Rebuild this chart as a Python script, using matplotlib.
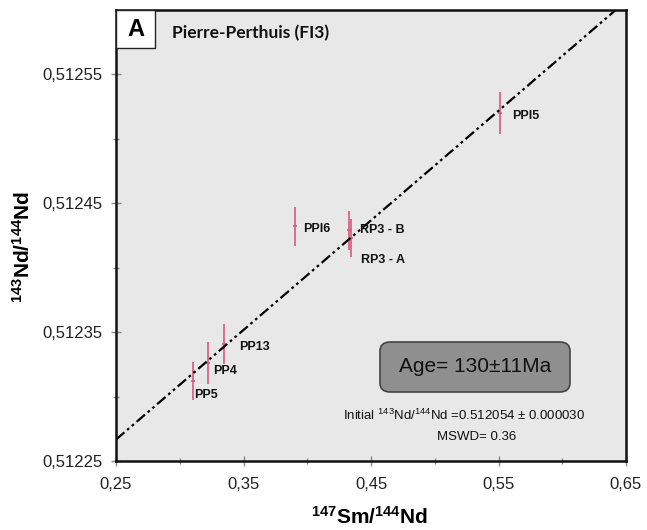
import numpy as np
import matplotlib
matplotlib.use("Agg")
import matplotlib.pyplot as plt
from matplotlib.patches import FancyBboxPatch, Rectangle
from matplotlib.ticker import FuncFormatter

plt.rcParams['font.family'] = ['Liberation Sans', 'DejaVu Sans']
plt.rcParams['mathtext.fontset'] = 'custom'
plt.rcParams['mathtext.rm'] = 'Liberation Sans'
plt.rcParams['mathtext.bf'] = 'Liberation Sans:bold'

# Sample data: 147Sm/144Nd and 143Nd/144Nd with 2-sigma errors
samples = ["PP5", "PP4", "PP13", "PPI6", "RP3-B", "RP3-A", "PPI5"]
sm_nd = [0.3104, 0.3222, 0.3347, 0.3904, 0.4325, 0.4345, 0.5512]
nd_nd = [0.512312, 0.512326, 0.512341, 0.512432, 0.512429, 0.512423, 0.512520]
nd_err = [0.0000150, 0.0000165, 0.0000155, 0.0000155, 0.0000150, 0.0000145, 0.0000160]
sm_err = [0.0015, 0.0015, 0.0015, 0.0015, 0.0015, 0.0015, 0.0015]
label_names = ["PP5", "PP4", "PP13", "PPI6", "RP3 - B", "RP3 - A", "PPI5"]
label_offsets = [(1, -10), (4, -6), (11, -2), (6, -2), (8, 0), (7, -16), (9, -2)]

# Isochron parameters
age_ma = 130
age_err_ma = 11
initial_ratio = 0.512054
initial_err = 0.000030
mswd = 0.36
lambda_sm = 6.54e-12

W, H = 647, 530
fig = plt.figure(figsize=(W/100, H/100), dpi=100)
ax = fig.add_axes([116/W, 1-461/H, 510/W, 451/H])
ax.set_facecolor('#e8e8e8')

ax.set_xlim(0.25, 0.65)
ax.set_ylim(0.51225, 0.5126)

# Isochron line
slope = np.exp(lambda_sm * age_ma * 1e6) - 1
xl = np.array([0.25, 0.65])
ax.plot(xl, initial_ratio + slope * xl, color='black', lw=1.6,
        linestyle=(0, (5, 1.6, 1.2, 1.6, 1.2, 1.6)), zorder=3)

# Data points with error bars
ax.errorbar(sm_nd, nd_nd, yerr=nd_err, xerr=sm_err, fmt='none',
            ecolor='#d9577f', elinewidth=1.2, capsize=0, zorder=2)

for name, x, y, off in zip(label_names, sm_nd, nd_nd, label_offsets):
    ax.annotate(name, (x, y), xytext=off, textcoords='offset points',
                ha='left', va='center', fontsize=9, fontweight='bold',
                color='#111111', zorder=4)

# Ticks
ax.set_xticks([0.25, 0.35, 0.45, 0.55, 0.65])
ax.set_yticks([0.51225, 0.51235, 0.51245, 0.51255])
ax.set_xticks([0.30, 0.40, 0.50, 0.60], minor=True)
ax.set_yticks([0.5123, 0.5124, 0.5125], minor=True)
ax.xaxis.set_major_formatter(FuncFormatter(lambda v, p: f"{v:.2f}".replace('.', ',')))
ax.yaxis.set_major_formatter(FuncFormatter(lambda v, p: f"{v:.5f}".replace('.', ',')))
ax.tick_params(axis='both', which='both', direction='inout', color='#888888',
               labelsize=12, labelcolor='#222222')
ax.tick_params(axis='both', which='major', length=7, width=1)
ax.tick_params(axis='both', which='minor', length=5, width=1)
ax.tick_params(axis='x', which='major', pad=8)
ax.tick_params(axis='y', which='major', pad=6)

for s in ax.spines.values():
    s.set_linewidth(1.8)
    s.set_color('#111111')
    s.set_zorder(5)

# Axis titles
fig.text(369/W, 1 - 524/H, r'$\mathbf{^{147}Sm/^{144}Nd}$', fontsize=15,
         ha='center', va='baseline')
fig.text(23/W, 1 - 247/H, r'$\mathbf{^{143}Nd/^{144}Nd}$', fontsize=15,
         ha='center', va='center', rotation=90)

# Panel letter box and title
ax.add_patch(Rectangle((0, 1 - 38/451), 39/510, 38/451, transform=ax.transAxes,
                       facecolor='white', edgecolor='#222222', lw=1.0, zorder=6,
                       clip_on=False))
ax.text(19.5/510, 1 - 19/451, 'A', transform=ax.transAxes, ha='center', va='center',
        fontsize=17, fontweight='bold', zorder=7)
ax.text(56/510, 1 - 23/451, 'Pierre-Perthuis (FI3)', transform=ax.transAxes,
        ha='left', va='center', fontsize=12.5, fontweight='bold',
        family=['Lato', 'DejaVu Sans'], color='#111111')

# Age box
bx0, by0, bw, bh = (380-116)/510, (461-392)/451, 190/510, 50/451
ax.add_patch(FancyBboxPatch((bx0, by0), bw, bh, transform=ax.transAxes,
                            boxstyle='round,pad=0,rounding_size=0.02',
                            facecolor='#8f8f8f', edgecolor='#444444', lw=1.2,
                            zorder=6))
ax.text(bx0 + bw/2, by0 + bh/2, f'Age= {age_ma}±{age_err_ma}Ma', transform=ax.transAxes,
        ha='center', va='center', fontsize=15, color='#111111', zorder=7)

ax.text((464-116)/510, (461-415)/451,
        r'Initial $^{143}$Nd/$^{144}$Nd =' + f'{initial_ratio:.6f} ± {initial_err:.6f}',
        transform=ax.transAxes, ha='center', va='center', fontsize=9.5, color='#111111')
ax.text((477-116)/510, (461-437)/451, f'MSWD= {mswd}', transform=ax.transAxes,
        ha='center', va='center', fontsize=9.5, color='#111111')

fig.savefig('out.png', dpi=100, facecolor='white')
